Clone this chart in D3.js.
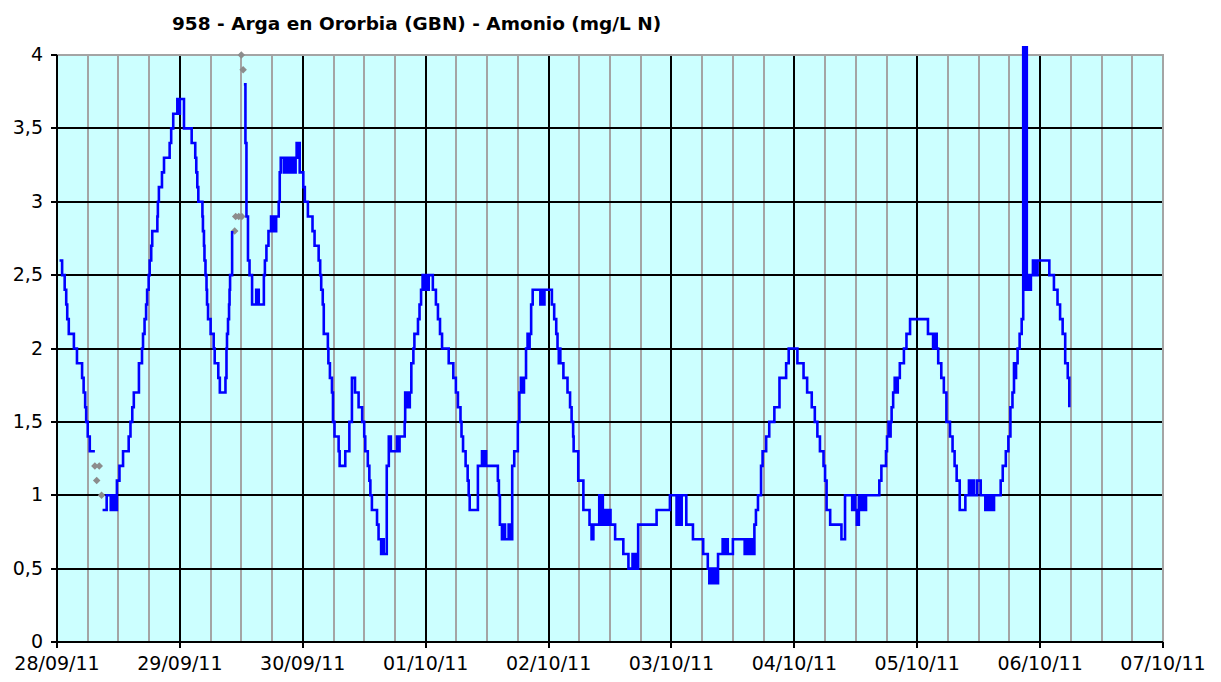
<!DOCTYPE html>
<html>
<head>
<meta charset="utf-8">
<script src="https://cdn.jsdelivr.net/npm/d3@7"></script>
<style>
body { margin: 0; background: #fff; }
svg { display: block; font-family: "DejaVu Sans", Verdana, sans-serif; }
</style>
</head>
<body>
<div id="chart"></div>
<script>
'use strict';

const chartTitle = "958 - Arga en Ororbia (GBN) - Amonio (mg/L N)";
const startDay = Date.UTC(2011, 8, 28);
const endDay = Date.UTC(2011, 9, 7);
const yTicks = [0, 0.5, 1, 1.5, 2, 2.5, 3, 3.5, 4];

// readings: [hours since 28/09/11 00:00, mg/L N], null marks a hole in the record
const sep28 = [[0.5,2.6],[1.0,2.5],[1.5,2.4],[1.8,2.3],[2.0,2.2],[2.3,2.1],[3.3,2.0],[3.9,1.9],[4.9,1.8],[5.2,1.7],[5.5,1.6],[5.7,1.5],[6.0,1.4],[6.4,1.3],[7.4,1.3],[7.5,null],
    [8.9,0.9],[9.7,1.0],[10.5,0.9],[10.8,1.0],[11.0,0.9],[11.3,1.0],[11.5,0.9],[11.7,1.1],[12.2,1.2],[12.9,1.3],[14.0,1.4],[14.35,1.5],[14.7,1.6],[15.0,1.7],[16.0,1.9],[16.6,2.0],[16.8,2.1],[17.1,2.2],[17.4,2.3],[17.6,2.4],[17.9,2.5],[18.1,2.6],[18.4,2.7],[18.6,2.8],[19.6,2.9],[19.7,3.0],[19.9,3.1],[20.5,3.2],[20.9,3.3],[22.0,3.4],[22.3,3.5],[22.7,3.6],[23.5,3.7],[23.8,3.6],[24.0,3.7]];
const sep29 = [[24.8,3.5],[26.3,3.4],[27.0,3.3],[27.2,3.2],[27.4,3.1],[27.6,3.0],[28.4,2.9],[28.5,2.8],[28.7,2.7],[28.8,2.6],[29.0,2.5],[29.2,2.4],[29.3,2.3],[29.5,2.2],[30.0,2.1],[30.6,2.0],[30.8,1.9],[31.5,1.8],[31.8,1.7],[32.9,1.8],[33.1,2.0],[33.2,2.1],[33.4,2.2],[33.6,2.3],[33.7,2.4],[33.8,2.5],[34.2,2.8],[34.3,null],
    [36.5,3.8],[36.8,3.4],[37.0,2.9],[37.3,2.6],[37.6,2.5],[38.1,2.3],[38.9,2.4],[39.4,2.3],[40.4,2.5],[40.6,2.6],[40.9,2.7],[41.3,2.8],[41.8,2.9],[42.1,2.8],[42.3,2.9],[42.6,2.8],[42.8,2.9],[43.3,3.0],[43.5,3.2],[43.7,3.3],[44.3,3.2],[44.5,3.3],[45.0,3.2],[45.2,3.3],[45.7,3.2],[45.9,3.3],[46.4,3.2],[46.6,3.3],[46.8,3.4],[47.1,3.3],[47.2,3.4],[47.4,3.2]];
const sep30 = [[48.1,3.1],[48.4,3.0],[49.0,2.9],[49.9,2.8],[50.3,2.7],[51.1,2.6],[51.4,2.5],[51.6,2.4],[51.9,2.3],[52.1,2.1],[52.9,2.0],[53.0,1.9],[53.3,1.8],[53.7,1.7],[53.9,1.5],[54.2,1.4],[55.0,1.3],[55.2,1.2],[56.3,1.3],[57.1,1.5],[57.6,1.8],[58.2,1.7],[58.9,1.6],[59.6,1.5],[60.0,1.4],[60.2,1.3],[60.7,1.2],[61.0,1.1],[61.2,1.0],[61.5,0.9],[62.5,0.8],[62.8,0.7],[63.3,0.6],[63.6,0.7],[63.8,0.6],[64.4,1.2],[64.8,1.4],[65.2,1.3],[66.4,1.4],[66.6,1.3],[66.9,1.4],[67.9,1.5],[68.0,1.7],[68.3,1.6],[68.5,1.7],[68.7,1.6],[68.9,1.7],[69.2,1.9],[69.6,2.0],[69.8,2.1],[70.5,2.2],[70.8,2.3],[71.1,2.4],[71.4,2.5],[71.8,2.4],[72.0,2.5]];
const oct01 = [[72.4,2.4],[72.6,2.5],[73.4,2.4],[74.0,2.3],[74.4,2.2],[74.8,2.1],[75.2,2.0],[76.5,1.9],[77.4,1.8],[77.9,1.7],[78.3,1.6],[78.8,1.5],[79.0,1.4],[79.3,1.3],[79.8,1.2],[80.2,1.1],[80.4,1.0],[80.6,0.9],[82.2,1.2],[83.0,1.3],[83.3,1.2],[83.5,1.3],[83.8,1.2],[86.1,1.1],[86.3,1.0],[86.5,0.8],[86.9,0.7],[87.3,0.8],[87.5,0.7],[88.2,0.8],[88.4,0.7],[88.9,1.2],[89.3,1.3],[90.0,1.5],[90.3,1.7],[90.6,1.8],[90.9,1.7],[91.2,1.8],[91.6,2.0],[91.9,2.1],[92.1,2.0],[92.3,2.1],[92.6,2.3],[92.9,2.4],[94.4,2.3],[94.7,2.4],[95.0,2.3],[95.2,2.4]];
const oct02 = [[96.65,2.3],[97.1,2.2],[97.5,2.1],[97.75,2.0],[98.0,1.9],[98.15,2.0],[98.3,1.9],[98.9,1.8],[99.7,1.7],[100.2,1.6],[100.5,1.5],[100.8,1.4],[100.9,1.3],[101.8,1.1],[102.8,0.9],[104.0,0.8],[104.4,0.7],[104.75,0.8],[105.9,1.0],[106.2,0.8],[106.4,1.0],[106.6,0.9],[106.9,0.8],[107.2,0.9],[107.5,0.8],[107.8,0.9],[108.1,0.8],[109.0,0.7],[110.6,0.6],[111.6,0.5],[112.4,0.6],[112.7,0.5],[113.0,0.6],[113.2,0.5],[113.5,0.8],[117.1,0.9],[119.7,1.0]];
const oct03 = [[121.0,0.8],[121.3,1.0],[121.6,0.8],[122.0,1.0],[122.9,0.8],[124.2,0.7],[126.2,0.6],[127.1,0.5],[127.4,0.4],[127.7,0.5],[128.0,0.4],[128.4,0.5],[128.7,0.4],[129.1,0.6],[130.0,0.7],[130.3,0.6],[130.6,0.7],[131.0,0.6],[132.0,0.7],[134.3,0.6],[134.6,0.7],[134.9,0.6],[135.2,0.7],[135.5,0.6],[135.8,0.7],[136.0,0.6],[136.2,0.8],[136.5,0.9],[136.9,1.0],[137.5,1.2],[137.8,1.3],[138.5,1.4],[139.1,1.5],[140.1,1.6],[141.1,1.8],[142.4,1.9],[142.9,2.0]];
const oct04 = [[144.6,1.9],[145.8,1.8],[146.5,1.7],[147.4,1.6],[148.0,1.5],[148.5,1.4],[149.0,1.3],[149.7,1.2],[150.0,1.1],[150.3,0.9],[151.0,0.8],[153.2,0.7],[153.9,1.0],[155.3,0.9],[155.6,1.0],[155.9,0.9],[156.2,0.8],[156.6,1.0],[156.9,0.9],[157.3,1.0],[157.6,0.9],[158.0,1.0],[160.6,1.1],[161.0,1.2],[161.9,1.3],[162.1,1.4],[162.4,1.5],[162.6,1.4],[162.8,1.5],[163.0,1.6],[163.3,1.7],[163.6,1.8],[163.9,1.7],[164.2,1.8],[164.6,1.9],[165.4,2.0],[165.9,2.1],[166.6,2.2]];
const oct05 = [[170.1,2.1],[171.1,2.0],[171.4,2.1],[171.8,2.0],[172.1,1.9],[172.7,1.8],[173.2,1.7],[173.7,1.5],[174.4,1.4],[174.9,1.3],[175.3,1.2],[175.7,1.1],[176.3,0.9],[177.4,1.0],[178.1,1.1],[178.4,1.0],[178.8,1.1],[179.1,1.0],[179.7,1.1],[180.4,1.0],[181.3,0.9],[181.7,1.0],[181.9,0.9],[182.3,1.0],[182.5,0.9],[183.0,1.0],[184.3,1.1],[184.7,1.2],[185.3,1.3],[185.8,1.4],[186.2,1.6],[186.6,1.7],[186.9,1.9],[187.1,1.8],[187.3,1.9],[187.6,2.0],[188.0,2.1],[188.4,2.2],[188.7,4.1],[188.8,2.5],[189.0,4.1],[189.1,2.4],[189.3,4.1],[189.4,2.4],[189.7,2.5],[189.9,2.4],[190.2,2.5],[190.6,2.6],[190.8,2.5],[191.0,2.6],[191.3,2.5],[191.5,2.6]];
const oct06 = [[193.8,2.5],[194.7,2.4],[195.4,2.3],[195.9,2.2],[196.4,2.1],[196.9,1.9],[197.4,1.8],[197.7,1.6]];

// discarded readings, shown as grey diamonds
const rejected = [[7.4,1.2],[7.75,1.1],[8.25,1.2],[8.7,1.0],[34.7,2.8],[34.9,2.9],[35.5,2.9],[36.0,4.0],[36.1,2.9],[36.35,3.9]];

const width = 1221;
const height = 682;
const margin = {
    top: 55,
    right: 58,
    bottom: 40,
    left: 57
};

const toDate = h => new Date(startDay + h * 3600e3);
const readings = [].concat(sep28, sep29, sep30, oct01, oct02, oct03, oct04, oct05, oct06)
    .map(([h, v]) => ({date: toDate(h), value: v}));
const marks = rejected.map(([h, v]) => ({date: toDate(h), value: v}));

const xScale = d3.scaleUtc()
    .domain([new Date(startDay), new Date(endDay)])
    .range([margin.left, width - margin.right]);
const yScale = d3.scaleLinear()
    .domain([0, 4])
    .range([height - margin.bottom, margin.top]);

const decimalComma = d3.formatLocale({decimal: ",", thousands: ".", grouping: [3], currency: ["", ""]}).format("");

const svg = d3.select("#chart")
    .append("svg")
    .attr("viewBox", [0, 0, width, height])
    .attr("width", width)
    .attr("height", height);

const x0 = margin.left, x1 = width - margin.right;
const y0 = height - margin.bottom, y1 = margin.top;
const px = v => Math.round(v);

svg.append("rect")
    .attr("x", x0)
    .attr("y", y1)
    .attr("width", x1 - x0)
    .attr("height", y0 - y1)
    .attr("fill", "#ccffff");

// 6-hour grid in grey, day grid in black
const quarters = d3.utcHour.every(6).range(new Date(startDay), new Date(endDay))
    .filter(d => d.getUTCHours() !== 0);
const days = d3.utcDay.range(new Date(startDay), new Date(endDay + 1));

const grid = svg.append("g")
    .attr("shape-rendering", "crispEdges")
    .attr("stroke-width", 2);

grid.append("g")
    .attr("stroke", "#a4a4a4")
    .selectAll("line")
    .data(quarters)
    .join("line")
        .attr("x1", d => px(xScale(d)))
        .attr("x2", d => px(xScale(d)))
        .attr("y1", y1)
        .attr("y2", y0);

grid.append("g")
    .attr("stroke", "#000")
    .selectAll("line")
    .data(days.slice(1, -1))
    .join("line")
        .attr("x1", d => px(xScale(d)))
        .attr("x2", d => px(xScale(d)))
        .attr("y1", y1)
        .attr("y2", y0);

grid.append("g")
    .attr("stroke", "#000")
    .selectAll("line")
    .data(yTicks.slice(1, -1))
    .join("line")
        .attr("y1", d => px(yScale(d)))
        .attr("y2", d => px(yScale(d)))
        .attr("x1", x0)
        .attr("x2", x1);

// plot frame: grey on top and right
grid.append("path")
    .attr("d", `M${x0},${y1}H${x1}V${y0}`)
    .attr("fill", "none")
    .attr("stroke", "#a4a4a4");

svg.append("g")
    .attr("transform", `translate(${x0},0)`)
    .attr("shape-rendering", "crispEdges")
    .call(d3.axisLeft(yScale).tickValues(yTicks).tickFormat(decimalComma).tickSize(6).tickSizeOuter(0).tickPadding(8).offset(0))
    .call(g => g.selectAll("line, path").attr("stroke", "#000").attr("stroke-width", 2))
    .call(g => g.selectAll("text").attr("font-size", 19).attr("font-family", "DejaVu Sans").attr("fill", "#000"));

svg.append("g")
    .attr("transform", `translate(0,${y0})`)
    .attr("shape-rendering", "crispEdges")
    .call(d3.axisBottom(xScale).tickValues(days).tickFormat(d3.utcFormat("%d/%m/%y")).tickSize(6).tickSizeOuter(0).tickPadding(9).offset(0))
    .call(g => g.selectAll("line, path").attr("stroke", "#000").attr("stroke-width", 2))
    .call(g => g.selectAll("text").attr("font-size", 19).attr("font-family", "DejaVu Sans").attr("fill", "#000"));

svg.append("clipPath")
    .attr("id", "plot-clip")
    .append("rect")
    .attr("x", x0)
    .attr("y", y1 - 9)
    .attr("width", x1 - x0)
    .attr("height", y0 - y1 + 9);

const diamond = d3.symbol(d3.symbolSquare, 28);

svg.append("g")
    .attr("fill", "#8c8c8c")
    .selectAll("path")
    .data(marks)
    .join("path")
        .attr("transform", d => `translate(${xScale(d.date)},${yScale(d.value)}) rotate(45)`)
        .attr("d", diamond);

const line = d3.line()
    .defined(d => d.value !== null)
    .x(d => xScale(d.date))
    .y(d => yScale(d.value))
    .curve(d3.curveStepAfter);

svg.append("path")
    .datum(readings)
    .attr("clip-path", "url(#plot-clip)")
    .attr("fill", "none")
    .attr("stroke", "#0000ff")
    .attr("stroke-width", 2.6)
    .attr("stroke-linejoin", "miter")
    .attr("d", line);

svg.append("text")
    .attr("x", 172)
    .attr("y", 30)
    .attr("font-size", 18.5)
    .attr("font-weight", "bold")
    .attr("fill", "#000")
    .text(chartTitle);
</script>
</body>
</html>
